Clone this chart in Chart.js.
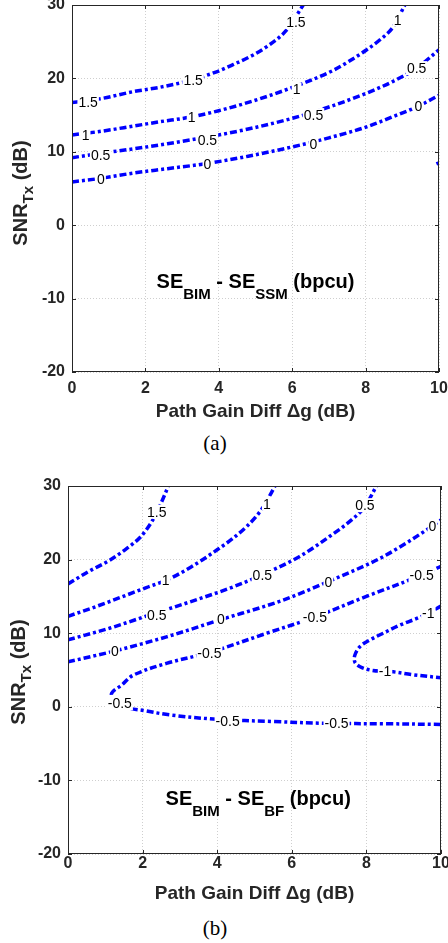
<!DOCTYPE html>
<html>
<head>
<meta charset="utf-8">
<title>SE BIM contour</title>
<script src="https://cdn.jsdelivr.net/npm/chart.js@4.4.1/dist/chart.umd.min.js"></script>
<style>
  body { margin: 0; width: 448px; height: 943px; background: #fff; position: relative; overflow: hidden; }
  .panel { position: absolute; left: 0; width: 448px; }
  .caption { position: absolute; transform: translate(-50%, -50%); font: 21px "Liberation Serif", "Times New Roman", serif; line-height: 1; color: #000; }
</style>
</head>
<body>
<div class="panel" style="top:0;height:430px"><canvas id="chart-a"></canvas></div>
<div class="panel" style="top:470px;height:440px"><canvas id="chart-b"></canvas></div>
<div class="caption" style="left:215px;top:443px">(a)</div>
<div class="caption" style="left:215px;top:928px">(b)</div>
<script>
// Sumbu
const xRange = [0, 10];
const yRange = [-20, 30];
const xTicks = [0, 2, 4, 6, 8, 10];
const yTicks = [-20, -10, 0, 10, 20, 30];

// (a) SE_BIM - SE_SSM, titik kontur [dg, snr]
const a15 = [[0,16.7],[0.85,17.3],[1.67,18.2],[2.4,18.8],[3.12,19.6],[3.94,20.9],[4.4,21.9],[4.94,23.2],[5.3,24.3],[5.85,26.6],[6.3,30]];
const a1 = [[0,12.3],[0.8,12.8],[1.67,13.5],[2.4,14.1],[3.2,14.7],[4.0,15.6],[4.85,16.8],[5.94,18.65],[7.12,21.1],[7.57,22.4],[8.03,23.9],[8.4,25.3],[8.75,27],[9.07,30]];
const a05 = [[0,9.2],[0.8,9.8],[1.67,10.4],[2.6,11.1],[3.67,12.0],[4.8,13.1],[6.03,14.6],[7.0,16.1],[8.03,18.0],[8.75,19.6],[9.39,21.4],[10,23.9]];
const a0 = [[0,5.9],[0.8,6.4],[1.67,7.1],[2.6,7.7],[3.67,8.4],[4.8,9.4],[6.03,10.7],[7.0,11.9],[8.03,13.4],[8.75,14.8],[9.39,16.1],[10,17.7]];
const aM05 = [[9.93,8.35],[10,8.5]];

// (b) SE_BIM - SE_BF
const b15 = [[0,16.7],[0.56,18.4],[1.13,19.95],[1.57,21.5],[1.93,23.0],[2.24,25.1],[2.4,26.6],[2.55,28.3],[2.69,30]];
const b1 = [[0,12.3],[0.74,13.6],[1.48,15.0],[2.1,16.2],[2.64,17.2],[3.3,19.0],[3.99,21.3],[4.4,22.8],[4.79,24.5],[5.05,25.9],[5.24,27.2],[5.55,30]];
const b05 = [[0,9.1],[1.13,10.7],[2.2,12.5],[3.18,14.1],[4.43,16.3],[5.19,17.9],[6.2,20.4],[7.0,23.1],[7.65,25.6],[7.96,27.2],[8.27,30]];
const b0 = [[0,6.1],[1.26,7.6],[2.64,9.5],[4.07,11.8],[5.77,14.5],[6.97,17.0],[8.45,20.4],[9.75,24.5],[10,25.4]];
const bM05 = [[10,-2.4],[8.5,-2.3],[6.93,-2.25],[5.5,-2.0],[3.99,-1.7],[2.73,-1.1],[2.02,-0.5],[1.55,-0.07],[1.25,0.8],[1.17,1.83],[1.45,3.0],[1.75,4.3],[2.64,5.9],[3.8,7.4],[5.33,10.0],[6.62,12.2],[8.0,15.0],[9.49,17.9],[10,19.1]];
const bM1 = [[10,13.7],[9.66,12.7],[9.35,12.0],[8.9,11.1],[8.45,10.0],[8.1,9.1],[7.83,8.2],[7.69,7.0],[7.69,6.1],[7.83,5.45],[8.1,5.0],[8.5,4.8],[8.72,4.75],[9.26,4.35],[10,3.95]];

// Label kontur [dg, snr, teks]
const labelsA = [
    [0.44,16.8,'1.5'],[3.3,19.8,'1.5'],[6.1,27.7,'1.5'],
    [0.37,12.3,'1'],[3.26,14.7,'1'],[6.12,18.5,'1'],[8.87,28.0,'1'],
    [0.78,9.5,'0.5'],[3.69,11.6,'0.5'],[6.58,15.0,'0.5'],[9.39,21.4,'0.5'],
    [0.79,6.25,'0'],[3.69,8.3,'0'],[6.58,11.1,'0'],[9.44,16.2,'0']
];
const labelsB = [
    [2.38,26.5,'1.5'],
    [2.62,17.2,'1'],[5.33,27.6,'1'],
    [2.38,12.5,'0.5'],[5.21,17.9,'0.5'],[7.96,27.4,'0.5'],
    [1.26,7.6,'0'],[4.1,11.9,'0'],[6.98,17.0,'0'],[9.77,24.5,'0'],
    [3.79,7.35,'-0.5'],[6.62,12.2,'-0.5'],[9.48,17.9,'-0.5'],
    [1.39,0.48,'-0.5'],[4.28,-1.9,'-0.5'],[7.2,-2.25,'-0.5'],
    [9.66,12.7,'-1'],[8.5,4.8,'-1']
];

const FAMILY = '"Liberation Sans", Arial, sans-serif';
const INK = '#262626';

function toPoints(arr) {
    return arr.map(p => ({x: p[0], y: p[1]}));
}

function contourSet(arr) {
    // kurva yang berbalik arah tidak bisa pakai monotone
    const turns = arr.some((p, i) => i > 0 && p[0] < arr[i - 1][0]);
    return {
        data: toPoints(arr),
        showLine: true,
        borderColor: '#0000ff',
        borderWidth: 3.5,
        borderDash: [7, 3, 3, 3],
        borderCapStyle: 'butt',
        cubicInterpolationMode: turns ? 'default' : 'monotone',
        tension: 0.35,
        pointRadius: 0,
        fill: false
    };
}

// Gambar teks dengan subskrip
function drawRuns(ctx, runs, x, y) {
    let w = 0;
    runs.forEach(r => { ctx.font = r.font; w += ctx.measureText(r.t).width; });
    let cx = x - w / 2;
    runs.forEach(r => {
        ctx.font = r.font;
        ctx.fillText(r.t, cx, y + r.dy);
        cx += ctx.measureText(r.t).width;
    });
}

const big = 'bold 20px ' + FAMILY;
const small = 'bold 15px ' + FAMILY;

const decorPlugin = {
    id: 'decor',
    afterDatasetsDraw(chart, args, opts) {
        const {ctx, scales: {x, y}} = chart;
        ctx.save();
        ctx.font = '14px ' + FAMILY;
        ctx.textAlign = 'center';
        ctx.textBaseline = 'middle';
        opts.labels.forEach(l => {
            const px = x.getPixelForValue(l[0]);
            const py = y.getPixelForValue(l[1]);
            const w = ctx.measureText(l[2]).width;
            ctx.fillStyle = '#fff';
            ctx.fillRect(px - w / 2 - 1, py - 7, w + 2, 14);
            ctx.fillStyle = '#000';
            ctx.fillText(l[2], px, py + 1);
        });
        ctx.restore();
    },
    afterDraw(chart, args, opts) {
        const {ctx, chartArea: a, scales: {x, y}} = chart;
        ctx.save();
        // kotak dan tick ke dalam
        ctx.strokeStyle = INK;
        ctx.lineWidth = 1;
        ctx.strokeRect(a.left + 0.5, a.top + 0.5, a.right - a.left - 1, a.bottom - a.top - 1);
        ctx.beginPath();
        xTicks.forEach(v => {
            const px = Math.round(x.getPixelForValue(v)) + 0.5;
            ctx.moveTo(px, a.bottom); ctx.lineTo(px, a.bottom - 4);
            ctx.moveTo(px, a.top); ctx.lineTo(px, a.top + 4);
        });
        yTicks.forEach(v => {
            const py = Math.round(y.getPixelForValue(v)) + 0.5;
            ctx.moveTo(a.left, py); ctx.lineTo(a.left + 4, py);
            ctx.moveTo(a.right, py); ctx.lineTo(a.right - 4, py);
        });
        ctx.stroke();

        ctx.fillStyle = INK;
        ctx.textAlign = 'left';
        ctx.textBaseline = 'alphabetic';
        // judul sumbu y
        ctx.save();
        ctx.translate(opts.yTitle[0], opts.yTitle[1]);
        ctx.rotate(-Math.PI / 2);
        drawRuns(ctx, [
            {t: 'SNR', font: big, dy: 0},
            {t: 'Tx', font: small, dy: 6},
            {t: ' (dB)', font: big, dy: 0}
        ], 0, 0);
        ctx.restore();

        // anotasi
        ctx.fillStyle = '#000';
        drawRuns(ctx, [
            {t: 'SE', font: big, dy: 0},
            {t: 'BIM', font: small, dy: 11},
            {t: ' - SE', font: big, dy: 0},
            {t: opts.sub, font: small, dy: 11},
            {t: ' (bpcu)', font: big, dy: 0}
        ], x.getPixelForValue(opts.note[0]), y.getPixelForValue(opts.note[1]));
        ctx.restore();
    }
};

function makeChart(id, sets, cfg) {
    const ctx = document.getElementById(id).getContext('2d');
    return new Chart(ctx, {
        type: 'scatter',
        data: { datasets: sets.map(contourSet) },
        options: {
            responsive: true,
            maintainAspectRatio: false,
            animation: false,
            layout: { padding: { top: cfg.top, right: cfg.right, left: 0, bottom: 0 } },
            plugins: {
                legend: { display: false },
                tooltip: { enabled: false },
                decor: { labels: cfg.labels, yTitle: cfg.yTitle, note: cfg.note, sub: cfg.sub }
            },
            scales: {
                x: {
                    type: 'linear',
                    min: xRange[0],
                    max: xRange[1],
                    grid: { color: 'rgba(38,38,38,0.22)', drawTicks: false },
                    border: { display: false, dash: [1, 2] },
                    ticks: {
                        stepSize: 2,
                        padding: cfg.xPad,
                        color: INK,
                        font: { family: FAMILY, size: 16, weight: 'bold' }
                    },
                    title: {
                        display: true,
                        text: 'Path Gain Diff \u0394g (dB)',
                        color: INK,
                        font: { family: FAMILY, size: 19, weight: 'bold' },
                        padding: { top: 0, bottom: cfg.titlePad }
                    },
                    afterFit(s) {
                        s.height = cfg.xHeight;
                        s.paddingLeft = 0;
                        s.paddingRight = 0;
                    }
                },
                y: {
                    type: 'linear',
                    min: yRange[0],
                    max: yRange[1],
                    grid: { color: 'rgba(38,38,38,0.22)', drawTicks: false },
                    border: { display: false, dash: [1, 2] },
                    ticks: {
                        stepSize: 10,
                        padding: 7,
                        color: INK,
                        font: { family: FAMILY, size: 16, weight: 'bold' }
                    },
                    afterFit(s) {
                        s.width = cfg.yWidth;
                        s.paddingTop = 0;
                        s.paddingBottom = 0;
                    }
                }
            }
        },
        plugins: [decorPlugin]
    });
}

document.addEventListener('DOMContentLoaded', function() {
    makeChart('chart-a', [a15, a1, a05, a0, aM05], {
        top: 5, right: 9, xHeight: 58, yWidth: 72, xPad: 7, titlePad: 7,
        labels: labelsA, yTitle: [27, 193], note: [5, -8.6], sub: 'SSM'
    });
    makeChart('chart-b', [b15, b1, b05, b0, bM05, bM1], {
        top: 16, right: 7, xHeight: 56, yWidth: 68, xPad: 0, titlePad: 5,
        labels: labelsB, yTitle: [25, 202], note: [5.1, -13.3], sub: 'BF'
    });
});
</script>
</body>
</html>
